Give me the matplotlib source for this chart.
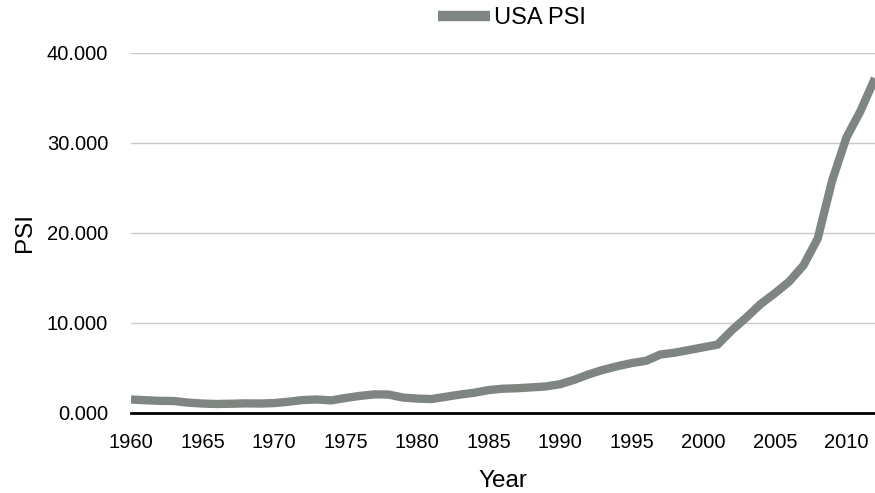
import matplotlib
matplotlib.use("Agg")
import matplotlib.pyplot as plt
from matplotlib.ticker import FuncFormatter, MultipleLocator

years = list(range(1960, 2013))
psi = [1.50, 1.42, 1.35, 1.33, 1.15, 1.05, 1.00, 1.03, 1.07, 1.05, 1.10,
       1.25, 1.44, 1.50, 1.40, 1.67, 1.90, 2.07, 2.05, 1.72, 1.60,
       1.55, 1.80, 2.05, 2.25, 2.55, 2.70, 2.75, 2.85, 2.95, 3.20,
       3.70, 4.30, 4.80, 5.20, 5.55, 5.80, 6.50, 6.70, 7.00, 7.30,
       7.60, 9.20, 10.60, 12.10, 13.30, 14.60, 16.40, 19.40, 25.80, 30.60,
       33.60, 37.20]
series_name = "USA PSI"
xticks = list(range(1960, 2011, 5))

plt.rcParams['font.family'] = ['Liberation Sans', 'DejaVu Sans']

fig = plt.figure(figsize=(8.75, 4.93), dpi=100)
ax = fig.add_axes([131/875, 1 - 413/493, (875-131)/875, (413-53)/493])

ax.plot(years, psi, color='#7f8581', lw=6, label=series_name,
        solid_joinstyle='miter', solid_capstyle='butt', zorder=3)

ax.set_xlim(1960, 2012)
ax.set_ylim(0, 40)
ax.yaxis.set_major_locator(MultipleLocator(10))
ax.yaxis.set_major_formatter(FuncFormatter(lambda v, p: f"{v:.3f}"))
ax.set_xticks(xticks)
ax.set_xticklabels([str(x) for x in xticks])

ax.grid(axis='y', color='#c8c8c8', lw=1)
ax.set_axisbelow(True)
for s in ['top', 'right', 'left']:
    ax.spines[s].set_visible(False)
ax.spines['bottom'].set_color('black')
ax.spines['bottom'].set_linewidth(2)
ax.spines['bottom'].set_zorder(4)

ax.tick_params(axis='both', length=0, labelsize=14.5)
ax.tick_params(axis='x', pad=14.5)
ax.tick_params(axis='y', pad=16.5)

ax.set_xlabel("Year", fontsize=17.5, labelpad=13)
ax.set_ylabel("PSI", fontsize=17.5, labelpad=8)

leg = ax.legend(loc='center', bbox_to_anchor=(0.512, (413 - 18) / 360), frameon=False,
                fontsize=17, handlelength=2.2, handletextpad=0.2, borderpad=0)
for h in leg.get_lines():
    h.set_linewidth(7.5)

fig.savefig("out.png", dpi=100)
